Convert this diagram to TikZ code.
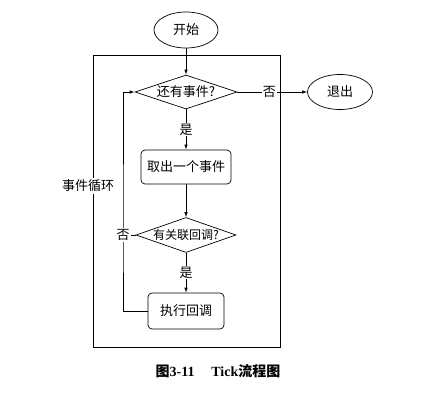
\documentclass[tikz,border=0pt]{standalone}
\usepackage{fontspec}
\setmainfont{Liberation Serif}
\newfontfamily\cjk{Noto Sans CJK SC}
\usetikzlibrary{shapes.geometric,arrows.meta}
\begin{document}
\begin{tikzpicture}[x=1pt,y=-1pt,line width=0.7pt,
  every node/.style={font=\cjk\fontsize{13}{15}\selectfont},
  term/.style={draw,ellipse,minimum width=64pt,minimum height=36pt,inner sep=0pt},
  proc/.style={draw,rounded corners=4pt,minimum height=34pt,inner sep=0pt},
  cond/.style={draw,diamond,aspect=3,minimum width=102pt,minimum height=34pt,inner sep=0pt},
  lab/.style={fill=white,inner sep=1pt},
  arr/.style={-{Latex[length=5pt,width=3.5pt]}}]
\useasboundingbox (0,0) rectangle (422,399);
\node[term] (start) at (186,30) {开始};
\draw (93,55) rectangle (280,347);
\node[lab,inner sep=2pt] (loopname) at (88,186) {事件循环};
\node[cond] (hasev) at (186,92) {还有事件?};
\node[term,minimum width=65pt,minimum height=35pt] (quit) at (340,92) {退出};
\node[proc,minimum width=90pt] (take) at (186,167) {取出一个事件};
\node[cond,font=\cjk\fontsize{12}{14}\selectfont,minimum width=100pt,minimum height=35pt] (hascb) at (186,235) {有关联回调?};
\node[proc,minimum width=76pt,minimum height=36pt] (run) at (186,311) {执行回调};
\coordinate (nocb) at (123,235);
\draw[arr] (start) -- (hasev);
\draw[arr] (hasev) -- node[lab,pos=0.46] {否} (quit);
\draw[arr] (hasev) -- node[lab] {是} (take);
\draw[arr] (take) -- (hascb);
\draw[arr] (hascb) -- node[lab] {是} (run);
\draw[arr] (run.west) -| (nocb) |- (hasev.west);
\draw (hascb.west) -- (nocb);
\node[lab] (nolab) at (nocb) {否};
% caption
\node[font=\bfseries\fontsize{14}{16}\selectfont] (caption) at (218,371) {{\cjk 图}3-11\hspace{1.2em}Tick{\cjk 流程图}};
\end{tikzpicture}
\end{document}
